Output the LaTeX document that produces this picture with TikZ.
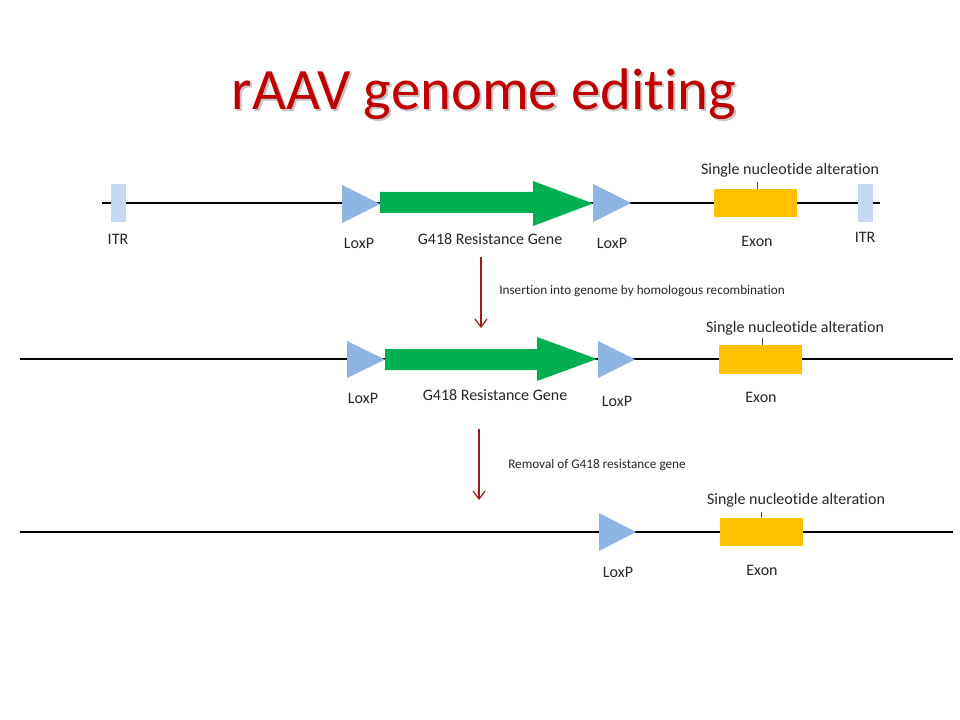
\documentclass[tikz,border=0pt]{standalone}
\usepackage{fontspec}
\setmainfont[Ligatures=CommonOff]{Carlito}
\usetikzlibrary{arrows.meta}
\definecolor{titlered}{HTML}{C00000}
\definecolor{loxblue}{HTML}{8EB4E3}
\definecolor{itrblue}{HTML}{C6D9F1}
\definecolor{neogreen}{HTML}{00B050}
\definecolor{exongold}{HTML}{FFC000}
\definecolor{stepred}{HTML}{A0191E}
\definecolor{labelgray}{HTML}{262626}

\begin{document}
\begin{tikzpicture}[x=0.75pt,y=-0.75pt,
  dna/.style={line width=2.1pt, black},
  dnathin/.style={line width=1pt, black},
  lbl/.style={font=\fontsize{12}{14}\selectfont, text=labelgray, inner sep=0pt},
  note/.style={font=\fontsize{9.9}{12}\selectfont, text=labelgray, inner sep=0pt, anchor=west},
  itr/.style={fill=itrblue},
  loxp/.style={fill=loxblue},
  exon/.style={fill=exongold},
  gene/.style={fill=neogreen},
  snptick/.style={line width=0.6pt, black!70},
  stepflow/.style={draw=stepred, line width=0.9pt, -{Straight Barb[length=6pt,width=9pt,line width=0.9pt]}}
]
\useasboundingbox (0,0) rectangle (960,720);

% title with a soft drop shadow
\node[font=\fontsize{44}{52}\selectfont, text=black!45, opacity=0.5, anchor=base, inner sep=0pt] (titleshadow) at (486,112) {rAAV genome editing};
\node[font=\fontsize{44}{52}\selectfont, text=titlered, anchor=base, inner sep=0pt] (title) at (484,110) {rAAV genome editing};

% ---------- targeting vector ----------
\draw[dna] (102,203) -- (880,203);
\fill[itr] (111,184) rectangle (126,222);
\fill[itr] (858,184) rectangle (873,222);
\fill[loxp] (342,185) -- (380,204) -- (342,223) -- cycle;
\fill[gene] (380,192) -- (533,192) -- (533,181) -- (593,203.5) -- (533,226) -- (533,213) -- (380,213) -- cycle;
\fill[loxp] (593,184) -- (631,203) -- (593,222) -- cycle;
\fill[exon] (714,189) rectangle (797,217);
\draw[snptick] (757,182) -- (757,189);

\node[lbl] (itrA) at (118,239) {ITR};
\node[lbl] (loxA1) at (359,243) {LoxP};
\node[lbl] (geneA) at (490,239) {G418 Resistance Gene};
\node[lbl] (loxA2) at (612,243) {LoxP};
\node[lbl] (exonA) at (757,241) {Exon};
\node[lbl] (itrB) at (865,237) {ITR};
\node[lbl] (snpA) at (790,170) {Single nucleotide alteration};

% step 1
\coordinate (s1a) at (481,257);
\coordinate (s1b) at (481,328);
\draw[stepflow] (s1a) -- (s1b);
\node[note] (stepA) at (499,291) {Insertion into genome by homologous recombination};

% ---------- after recombination ----------
\draw[dnathin] (20,359) -- (107,359);
\draw[dna] (107,359) -- (885,359);
\draw[dnathin] (885,359) -- (953,359);
\fill[loxp] (347,341) -- (385,359.5) -- (347,378) -- cycle;
\fill[gene] (385,349) -- (537,349) -- (537,337) -- (597,359) -- (537,381) -- (537,370) -- (385,370) -- cycle;
\fill[loxp] (598,341) -- (635,359.5) -- (598,378) -- cycle;
\fill[exon] (719,345) rectangle (802,374);
\draw[snptick] (762,338) -- (762,345);

\node[lbl] (loxB1) at (363,398) {LoxP};
\node[lbl] (geneB) at (495,395) {G418 Resistance Gene};
\node[lbl] (loxB2) at (617,401) {LoxP};
\node[lbl] (exonB) at (761,397) {Exon};
\node[lbl] (snpB) at (795,328) {Single nucleotide alteration};

% step 2
\coordinate (s2a) at (479,429);
\coordinate (s2b) at (479,500);
\draw[stepflow] (s2a) -- (s2b);
\node[note] (stepB) at (508,465) {Removal of G418 resistance gene};

% ---------- after Cre excision ----------
\draw[dnathin] (20,532) -- (107,532);
\draw[dna] (107,532) -- (885,532);
\draw[dnathin] (885,532) -- (953,532);
\fill[loxp] (599,513) -- (636,532) -- (599,551) -- cycle;
\fill[exon] (720,518) rectangle (803,546);
\draw[snptick] (761,512) -- (761,518);

\node[lbl] (snpC) at (796,500) {Single nucleotide alteration};
\node[lbl] (loxC) at (618,572) {LoxP};
\node[lbl] (exonC) at (762,570) {Exon};
\end{tikzpicture}
\end{document}
